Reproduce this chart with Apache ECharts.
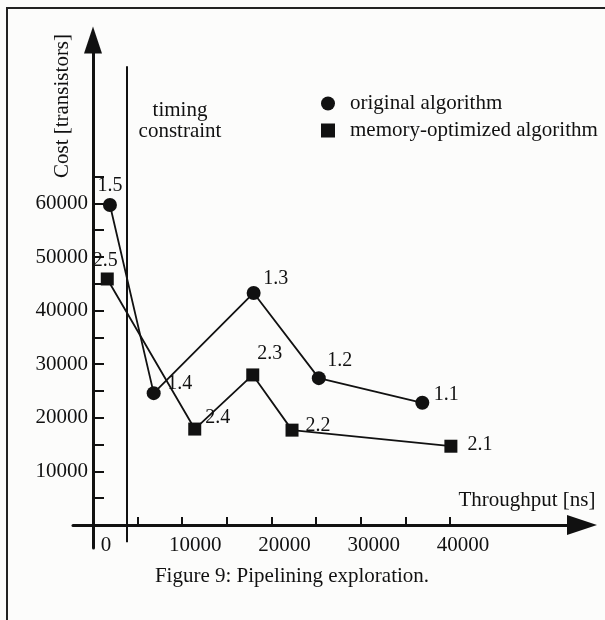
<!DOCTYPE html>
<html>
<head>
<meta charset="utf-8">
<script src="https://cdn.jsdelivr.net/npm/echarts@6/dist/echarts.min.js"></script>
<style>
  html, body { margin: 0; padding: 0; background: #fcfcfb; }
  #chart { width: 605px; height: 620px; }
</style>
</head>
<body>
<div id="chart"></div>
<script>
// values
const origNames = ["1.5", "1.4", "1.3", "1.2", "1.1"];
const origThroughput = [1900, 6800, 18000, 25300, 36900];
const origCost = [59700, 24600, 43300, 27400, 22800];

const memNames = ["2.5", "2.4", "2.3", "2.2", "2.1"];
const memThroughput = [1600, 11400, 17900, 22300, 40100];
const memCost = [45900, 17900, 28000, 17700, 14700];

const timingConstraint = 3750;
const xTickValues = [5000, 10000, 15000, 20000, 25000, 30000, 35000, 40000];
const xLabelValues = [0, 10000, 20000, 30000, 40000];
const yTickValues = [5000, 10000, 15000, 20000, 25000, 30000, 35000, 40000, 45000, 50000, 55000, 60000, 65000];
const yLabelValues = [10000, 20000, 30000, 40000, 50000, 60000];

const font = "'Liberation Serif', 'Times New Roman', serif";
const ink = "#111";

// where each point label sits relative to its marker
const labelOffset = {
  "1.5": [0, -19], "1.4": [26, -9], "1.3": [22, -14], "1.2": [21, -17], "1.1": [24, -8],
  "2.5": [-2, -18], "2.4": [23, -11], "2.3": [17, -21], "2.2": [26, -4], "2.1": [29, -1],
};

const toPoints = (names, xs, ys) =>
  names.map((n, i) => ({
    value: [xs[i], ys[i]],
    label: { offset: labelOffset[n] },
    name: n,
  }));

const chart = echarts.init(document.getElementById("chart"), null, { renderer: "canvas" });

const pointLabel = {
  show: true,
  position: "inside",
  formatter: (p) => p.name,
  color: ink,
  fontFamily: font,
  fontSize: 20,
  textBorderWidth: 0,
};

const options = {
  backgroundColor: "#fcfcfb",
  animation: false,
  grid: {
    left: 73,
    top: 40,
    width: 509,
    height: 508,
    outerBoundsMode: "none",
  },
  legend: {
    orient: "vertical",
    left: 316,
    top: 88,
    itemWidth: 14,
    itemHeight: 14,
    itemGap: 6,
    textStyle: { fontFamily: font, fontSize: 21, color: ink, padding: [0, 0, 0, 10] },
    data: [
      { name: "original algorithm", icon: "circle" },
      { name: "memory-optimized algorithm", icon: "rect" },
    ],
  },
  xAxis: {
    type: "value",
    min: -2240,
    max: 54790,
    axisLine: {
      onZero: true,
      symbol: ["none", "triangle"],
      symbolSize: [20, 30],
      lineStyle: { color: ink, width: 3 },
    },
    axisTick: {
      inside: true,
      length: 8,
      customValues: xTickValues,
      lineStyle: { color: ink, width: 2 },
    },
    axisLabel: {
      customValues: xLabelValues,
      formatter: (v) => String(v),
      margin: -13,
      padding: [0, 0, 0, 26],
      color: ink,
      fontFamily: font,
      fontSize: 21,
    },
    splitLine: { show: false },
  },
  yAxis: {
    type: "value",
    min: -4290,
    max: 90490,
    axisLine: {
      onZero: true,
      symbol: ["none", "triangle"],
      symbolSize: [18, 27],
      lineStyle: { color: ink, width: 3 },
    },
    axisTick: {
      inside: true,
      length: 11,
      customValues: yTickValues,
      lineStyle: { color: ink, width: 2 },
    },
    axisLabel: {
      customValues: yLabelValues,
      formatter: (v) => String(v),
      margin: -15,
      color: ink,
      fontFamily: font,
      fontSize: 21,
    },
    splitLine: { show: false },
  },
  series: [
    {
      name: "original algorithm",
      type: "line",
      symbol: "circle",
      symbolSize: 14,
      itemStyle: { color: ink },
      lineStyle: { color: ink, width: 1.8 },
      label: pointLabel,
      data: toPoints(origNames, origThroughput, origCost),
      markLine: {
        silent: true,
        symbol: "none",
        label: { show: false },
        lineStyle: { color: ink, width: 2, type: "solid" },
        data: [[{ coord: [timingConstraint, -3200] }, { coord: [timingConstraint, 85600] }]],
      },
    },
    {
      name: "memory-optimized algorithm",
      type: "line",
      symbol: "rect",
      symbolSize: 13,
      itemStyle: { color: ink },
      lineStyle: { color: ink, width: 1.8 },
      label: pointLabel,
      data: toPoints(memNames, memThroughput, memCost),
    },
  ],
  graphic: [
    {
      type: "rect",
      shape: { x: 7, y: 8, width: 700, height: 700 },
      style: { fill: "none", stroke: "#222", lineWidth: 2 },
      silent: true,
    },
    {
      type: "text",
      x: 62,
      y: 106,
      rotation: Math.PI / 2,
      style: {
        text: "Cost [transistors]",
        font: "21px " + font,
        fill: ink,
        textAlign: "center",
        textVerticalAlign: "middle",
      },
    },
    {
      type: "text",
      x: 527,
      y: 500,
      style: {
        text: "Throughput [ns]",
        font: "21px " + font,
        fill: ink,
        textAlign: "center",
        textVerticalAlign: "middle",
      },
    },
    {
      type: "text",
      x: 180,
      y: 100,
      style: {
        text: "timing\nconstraint",
        font: "21px " + font,
        lineHeight: 21,
        fill: ink,
        textAlign: "center",
        textVerticalAlign: "top",
      },
    },
    {
      type: "text",
      x: 292,
      y: 576,
      style: {
        text: "Figure 9: Pipelining exploration.",
        font: "21px " + font,
        fill: ink,
        textAlign: "center",
        textVerticalAlign: "middle",
      },
    },
  ],
};

chart.setOption(options);
</script>
</body>
</html>
